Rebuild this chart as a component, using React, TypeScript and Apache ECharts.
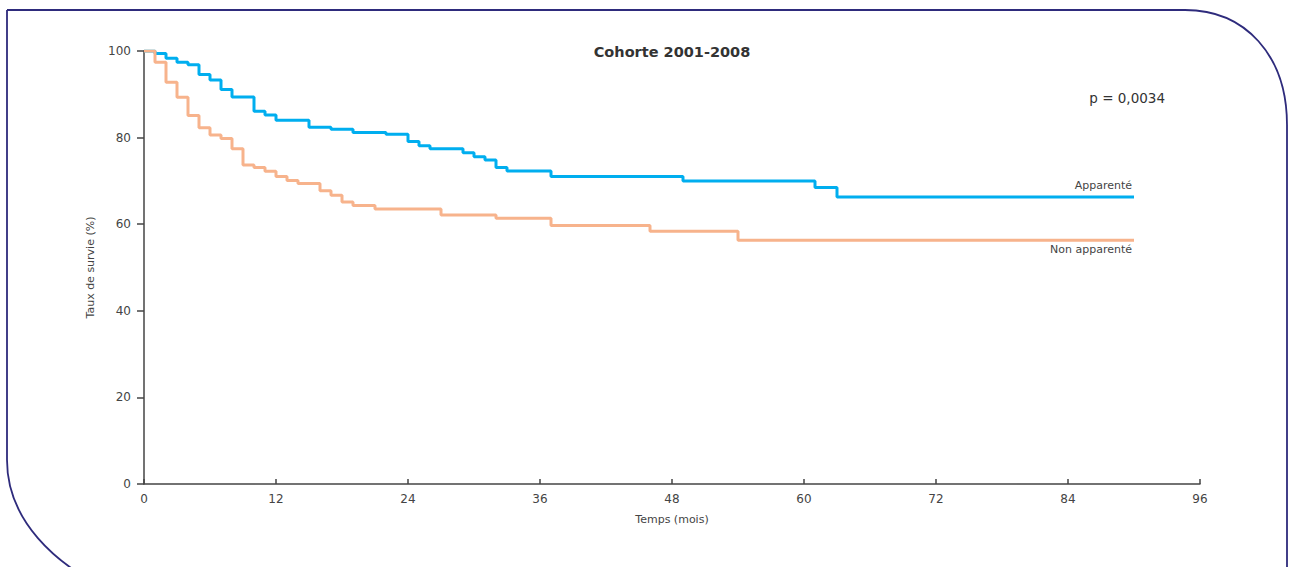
import React, { useEffect, useRef } from "react";
import * as echarts from "echarts";

const xTicks = [0, 12, 24, 36, 48, 60, 72, 84, 96];
const yTicks = [0, 20, 40, 60, 80, 100];

const apparenteMonths = [0, 1, 2, 3, 4, 5, 6, 7, 8, 10, 11, 12, 15, 17, 19, 22, 24, 25, 26, 29, 30, 31, 32, 33, 37, 49, 61, 63, 90];
const apparenteValues = [100, 99.4, 98.3, 97.4, 96.8, 94.6, 93.3, 91.1, 89.4, 86.1, 85.2, 84.0, 82.4, 81.9, 81.2, 80.8, 79.1, 78.1, 77.4, 76.5, 75.6, 74.8, 73.1, 72.3, 71.0, 70.0, 68.5, 66.3, 66.3];

const nonApparenteMonths = [0, 1, 2, 3, 4, 5, 6, 7, 8, 9, 10, 11, 12, 13, 14, 16, 17, 18, 19, 21, 27, 32, 37, 46, 54, 90];
const nonApparenteValues = [100, 97.4, 92.8, 89.3, 85.1, 82.3, 80.6, 79.8, 77.4, 73.7, 73.1, 72.2, 71.0, 70.1, 69.4, 67.7, 66.7, 65.1, 64.3, 63.5, 62.1, 61.4, 59.7, 58.4, 56.3, 56.3];

const title = "Cohorte 2001-2008";
const pValue = "p = 0,0034";
const seriesNames = ["Apparenté", "Non apparenté"];

const FRAME_D =
  "M 7 10 L 1185 10 C 1245 10 1287 55 1287 125 L 1287 600 M 7 10 L 7 460 C 7 520 55 565 110 590";

let registered = false;

export default function App() {
  const ref = useRef<HTMLDivElement>(null);
  useEffect(() => {
    if (!registered) {
      echarts.graphic.registerShape("frame", echarts.graphic.extendPath(FRAME_D, {}) as any);
      registered = true;
    }
    const chart = echarts.init(ref.current!, null, { renderer: "svg" });
    const font = "DejaVu Sans";
    const txt = "#444";
    const blue = "#00AEEF";
    const orange = "#F7B38C";
    const lastA = apparenteValues[apparenteValues.length - 1];
    const lastN = nonApparenteValues[nonApparenteValues.length - 1];
    chart.setOption({
      animation: false,
      textStyle: { fontFamily: font },
      grid: { left: 144, right: 89, top: 51, bottom: 83, containLabel: false },
      xAxis: {
        type: "value",
        min: 0,
        max: 96,
        interval: 12,
        name: "Temps (mois)",
        nameLocation: "middle",
        nameGap: 30,
        nameTextStyle: { fontSize: 11, color: txt, fontFamily: font },
        axisLine: { show: true, lineStyle: { color: "#444", width: 1.5 } },
        axisTick: { show: true, inside: true, length: 5, lineStyle: { color: "#444", width: 1.5 } },
        axisLabel: {
          fontSize: 12,
          color: txt,
          margin: 9,
          fontFamily: font,
          formatter: (v: number) => (xTicks.includes(v) ? String(v) : ""),
        },
        splitLine: { show: false },
      },
      yAxis: {
        type: "value",
        min: 0,
        max: 100,
        interval: 20,
        name: "Taux de survie (%)",
        nameLocation: "middle",
        nameGap: 48,
        nameTextStyle: { fontSize: 11, color: txt, fontFamily: font },
        axisLine: { show: true, lineStyle: { color: "#444", width: 1.5 } },
        axisTick: { show: true, length: 7, lineStyle: { color: "#444", width: 1.5 } },
        axisLabel: {
          fontSize: 12,
          color: txt,
          margin: 13,
          fontFamily: font,
          formatter: (v: number) => (yTicks.includes(v) ? String(v) : ""),
        },
        splitLine: { show: false },
      },
      graphic: [
        {
          type: "frame",
          x: 0,
          y: 0,
          silent: true,
          style: { fill: "none", stroke: "#2E2B7C", lineWidth: 1.8 },
        },
        {
          type: "text",
          x: 672,
          y: 52,
          style: {
            text: title,
            font: `bold 14.5px "${font}"`,
            fill: "#333",
            align: "center",
            verticalAlign: "middle",
          },
        },
        {
          type: "text",
          x: 1165,
          y: 98,
          style: {
            text: pValue,
            font: `13.5px "${font}"`,
            fill: "#333",
            align: "right",
            verticalAlign: "middle",
          },
        },
      ],
      series: [
        {
          name: seriesNames[1],
          type: "line",
          step: "end",
          showSymbol: false,
          z: 2,
          lineStyle: { color: orange, width: 3 },
          data: nonApparenteMonths.map((m, i) => [m, nonApparenteValues[i]]),
          markPoint: {
            symbol: "rect",
            symbolSize: 0,
            data: [
              {
                coord: [90, lastN],
                label: {
                  show: true,
                  position: "bottom",
                  formatter: seriesNames[1],
                  color: txt,
                  fontSize: 11,
                  fontFamily: font,
                  align: "right",
                  offset: [-2, -1],
                },
              },
            ],
          },
        },
        {
          name: seriesNames[0],
          type: "line",
          step: "end",
          showSymbol: false,
          z: 1,
          lineStyle: { color: blue, width: 3 },
          data: apparenteMonths.map((m, i) => [m, apparenteValues[i]]),
          markPoint: {
            symbol: "rect",
            symbolSize: 0,
            data: [
              {
                coord: [90, lastA],
                label: {
                  show: true,
                  position: "top",
                  formatter: seriesNames[0],
                  color: txt,
                  fontSize: 11,
                  fontFamily: font,
                  align: "right",
                  offset: [-2, -1],
                },
              },
            ],
          },
        },
      ],
    });
    return () => chart.dispose();
  }, []);
  return <div ref={ref} style={{ width: 1289, height: 567, position: "absolute", left: 0, top: 0 }} />;
}
